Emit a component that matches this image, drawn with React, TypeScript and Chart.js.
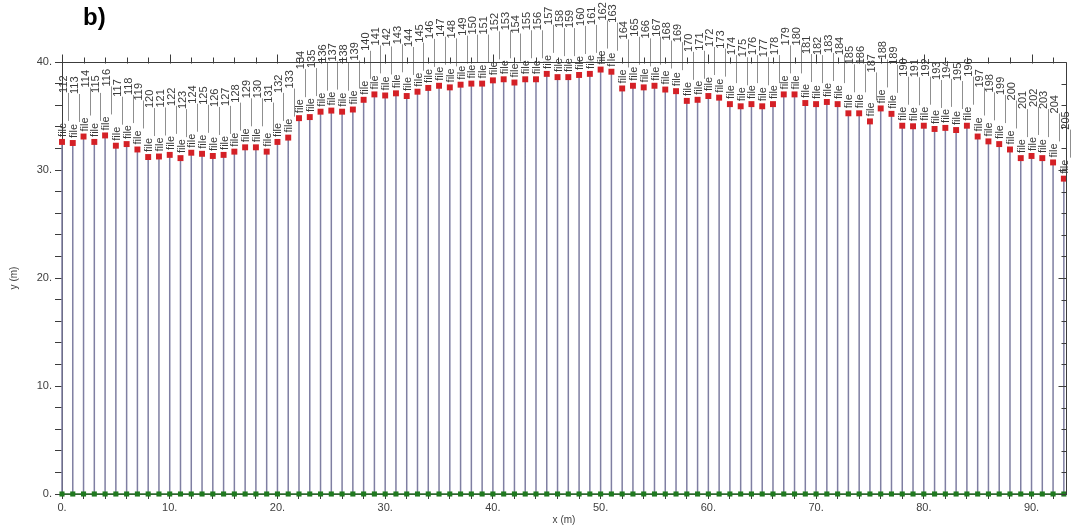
import React, { useEffect, useRef } from 'react';
import { Chart, registerables } from 'chart.js';

Chart.register(...registerables);

// Station positions along the profile (m)
const stationX: number[] = [
  0, 1, 2, 3, 4, 5, 6, 7, 8, 9,
  10, 11, 12, 13, 14, 15, 16, 17, 18, 19,
  20, 21, 22, 23, 24, 25, 26, 27, 28, 29,
  30, 31, 32, 33, 34, 35, 36, 37, 38, 39,
  40, 41, 42, 43, 44, 45, 46, 47, 48, 49,
  50, 51, 52, 53, 54, 55, 56, 57, 58, 59,
  60, 61, 62, 63, 64, 65, 66, 67, 68, 69,
  70, 71, 72, 73, 74, 75, 76, 77, 78, 79,
  80, 81, 82, 83, 84, 85, 86, 87, 88, 89,
  90, 91, 92, 93,
];

// Elevation of each station (m)
const elevations: number[] = [
  32.6, 32.5, 33.1, 32.6, 33.2, 32.25, 32.4, 31.9, 31.2, 31.25,
  31.4, 31.1, 31.6, 31.5, 31.3, 31.4, 31.7, 32.1, 32.1, 31.7,
  32.6, 33.0, 34.8, 34.9, 35.4, 35.5, 35.4, 35.6, 36.5, 37.0,
  36.9, 37.1, 36.85, 37.25, 37.6, 37.8, 37.65, 37.9, 38.0, 38.0,
  38.3, 38.4, 38.1, 38.4, 38.4, 38.9, 38.6, 38.6, 38.8, 38.9,
  39.3, 39.1, 37.55, 37.8, 37.65, 37.8, 37.45, 37.3, 36.4, 36.5,
  36.85, 36.7, 36.1, 35.9, 36.1, 35.9, 36.1, 37.0, 37.0, 36.2,
  36.1, 36.3, 36.1, 35.25, 35.25, 34.5, 35.7, 35.2, 34.1, 34.05,
  34.1, 33.8, 33.9, 33.7, 34.1, 33.1, 32.65, 32.4, 31.9, 31.1,
  31.3, 31.1, 30.7, 29.2,
];

// Ground reference level of each station (m)
const groundLevels: number[] = [
  0, 0, 0, 0, 0, 0, 0, 0, 0, 0,
  0, 0, 0, 0, 0, 0, 0, 0, 0, 0,
  0, 0, 0, 0, 0, 0, 0, 0, 0, 0,
  0, 0, 0, 0, 0, 0, 0, 0, 0, 0,
  0, 0, 0, 0, 0, 0, 0, 0, 0, 0,
  0, 0, 0, 0, 0, 0, 0, 0, 0, 0,
  0, 0, 0, 0, 0, 0, 0, 0, 0, 0,
  0, 0, 0, 0, 0, 0, 0, 0, 0, 0,
  0, 0, 0, 0, 0, 0, 0, 0, 0, 0,
  0, 0, 0, 0,
];

// Point identifiers
const pointIds: string[] = [
  '112', '113', '114', '115', '116', '117', '118', '119', '120', '121',
  '122', '123', '124', '125', '126', '127', '128', '129', '130', '131',
  '132', '133', '134', '135', '136', '137', '138', '139', '140', '141',
  '142', '143', '144', '145', '146', '147', '148', '149', '150', '151',
  '152', '153', '154', '155', '156', '157', '158', '159', '160', '161',
  '162', '163', '164', '165', '166', '167', '168', '169', '170', '171',
  '172', '173', '174', '175', '176', '177', '178', '179', '180', '181',
  '182', '183', '184', '185', '186', '187', '188', '189', '190', '191',
  '192', '193', '194', '195', '196', '197', '198', '199', '200', '201',
  '202', '203', '204', '205',
];

const pointTag = 'file';

const xMin = 0;
const xMax = 93.2;
const yMin = 0;
const yMax = 40;
const tickStep = 2;
const labelStep = 10;

const FONT = '"Liberation Sans", Arial, sans-serif';
const AXIS_COLOR = '#3c3c3c';
const TEXT_COLOR = '#404040';

const pointLabelPlugin = {
  id: 'pointLabelPlugin',
  afterDatasetsDraw(chart: any) {
    const { ctx, scales } = chart;
    const xs = scales.x;
    const ys = scales.y;
    ctx.save();
    ctx.font = `11px ${FONT}`;
    ctx.fillStyle = '#3a3a3a';
    ctx.strokeStyle = '#8f8f8f';
    ctx.lineWidth = 1;
    for (let i = 0; i < stationX.length; i++) {
      const px = xs.getPixelForValue(stationX[i]);
      const py = ys.getPixelForValue(elevations[i]);
      // tag text
      ctx.save();
      ctx.translate(px + 1, py - 5);
      ctx.rotate(-Math.PI / 2);
      ctx.textAlign = 'left';
      ctx.textBaseline = 'middle';
      ctx.fillText(pointTag, 0, 0);
      ctx.restore();
      // leader line
      ctx.beginPath();
      ctx.moveTo(Math.round(px + 6) + 0.5, py - 21);
      ctx.lineTo(Math.round(px + 6) + 0.5, py - 49);
      ctx.stroke();
      // id text
      ctx.save();
      ctx.translate(px + 2, py - 49);
      ctx.rotate(-Math.PI / 2);
      ctx.textAlign = 'left';
      ctx.textBaseline = 'middle';
      ctx.fillText(pointIds[i], 0, 0);
      ctx.restore();
    }
    ctx.restore();
  },
};

const frameAxesPlugin = {
  id: 'frameAxesPlugin',
  afterDraw(chart: any) {
    const { ctx, chartArea, scales } = chart;
    const xs = scales.x;
    const ys = scales.y;
    ctx.save();
    ctx.strokeStyle = AXIS_COLOR;
    ctx.lineWidth = 1;
    ctx.beginPath();
    const top = Math.round(chartArea.top) + 0.5;
    const right = Math.round(chartArea.right) + 0.5;
    ctx.moveTo(chartArea.left, top);
    ctx.lineTo(right, top);
    ctx.lineTo(right, chartArea.bottom);
    for (let v = xMin; v <= xMax; v += tickStep) {
      const px = Math.round(xs.getPixelForValue(v)) + 0.5;
      const len = v % labelStep === 0 ? 8 : 5;
      ctx.moveTo(px, top + 1);
      ctx.lineTo(px, top - len);
    }
    for (let v = yMin; v <= yMax; v += tickStep) {
      const py = Math.round(ys.getPixelForValue(v)) + 0.5;
      const len = v % labelStep === 0 ? 8 : 5;
      ctx.moveTo(right, py);
      ctx.lineTo(right - len, py);
    }
    ctx.stroke();
    ctx.restore();
  },
};

export default function App() {
  const canvasRef = useRef<HTMLCanvasElement | null>(null);

  useEffect(() => {
    const canvas = canvasRef.current;
    if (!canvas) return;

    const stemData: any[] = [];
    for (let i = 0; i < stationX.length; i++) {
      stemData.push({ x: stationX[i], y: groundLevels[i] });
      stemData.push({ x: stationX[i], y: elevations[i] });
      stemData.push({ x: stationX[i], y: null });
    }
    const topData = stationX.map((x, i) => ({ x, y: elevations[i] }));
    const groundData = stationX.map((x, i) => ({ x, y: groundLevels[i] }));

    const tickCb = (value: any) => {
      const v = Number(value);
      return Math.abs(v % labelStep) < 1e-9 ? `${v}.` : '';
    };

    const chart = new Chart(canvas, {
      type: 'scatter',
      data: {
        datasets: [
          {
            label: 'top',
            data: topData,
            showLine: false,
            pointStyle: 'rect',
            pointRadius: 4.2,
            pointBackgroundColor: '#d42026',
            pointBorderColor: '#d42026',
            pointBorderWidth: 0,
            order: 0,
            clip: false as any,
          },
          {
            label: 'ground',
            data: groundData,
            showLine: true,
            borderColor: '#2f6e2f',
            borderWidth: 1.5,
            pointStyle: 'rect',
            pointRadius: 3.6,
            pointBackgroundColor: '#1f7a1f',
            pointBorderColor: '#1f7a1f',
            pointBorderWidth: 0,
            order: 1,
            clip: false as any,
          },
          {
            label: 'stems',
            data: stemData,
            showLine: true,
            spanGaps: false,
            borderColor: '#7f7fa2',
            borderWidth: 1.5,
            pointRadius: 0,
            order: 2,
            clip: false as any,
          },
        ],
      },
      options: {
        animation: false,
        responsive: false,
        events: [],
        layout: { padding: { left: 8, right: 10, top: 62, bottom: 0 } },
        plugins: {
          legend: { display: false },
          tooltip: { enabled: false },
        },
        scales: {
          x: {
            type: 'linear',
            position: 'bottom',
            min: xMin,
            max: xMax,
            afterFit: (scale: any) => {
              scale.height = 34;
            },
            ticks: {
              stepSize: tickStep,
              includeBounds: false,
              autoSkip: false,
              maxRotation: 0,
              minRotation: 0,
              padding: 2,
              color: TEXT_COLOR,
              font: { family: FONT, size: 11 },
              callback: tickCb,
            },
            grid: {
              display: true,
              drawOnChartArea: false,
              drawTicks: true,
              tickLength: 5,
              color: AXIS_COLOR,
            },
            border: { display: true, color: AXIS_COLOR, width: 1 },
            title: {
              display: true,
              text: 'x (m)',
              color: TEXT_COLOR,
              font: { family: FONT, size: 10 },
              padding: { top: 0, bottom: 2 },
            },
          },
          y: {
            type: 'linear',
            position: 'left',
            min: yMin,
            max: yMax,
            afterFit: (scale: any) => {
              scale.width = 54;
            },
            ticks: {
              stepSize: tickStep,
              includeBounds: false,
              autoSkip: false,
              padding: 3,
              color: TEXT_COLOR,
              font: { family: FONT, size: 11 },
              callback: tickCb,
            },
            grid: {
              display: true,
              drawOnChartArea: false,
              drawTicks: true,
              tickLength: 7,
              color: AXIS_COLOR,
            },
            border: { display: true, color: AXIS_COLOR, width: 1 },
            title: {
              display: true,
              text: 'y (m)',
              color: TEXT_COLOR,
              font: { family: FONT, size: 10 },
              padding: { top: 0, bottom: 0 },
            },
          },
        },
      },
      plugins: [pointLabelPlugin, frameAxesPlugin],
    });

    return () => {
      chart.destroy();
    };
  }, []);

  return (
    <div
      style={{
        position: 'fixed',
        left: 0,
        top: 0,
        width: 1076,
        height: 528,
        background: '#ffffff',
        overflow: 'hidden',
      }}
    >
      <canvas
        ref={canvasRef}
        width={1076}
        height={528}
        style={{ width: 1076, height: 528, display: 'block' }}
      />
      <div
        style={{
          position: 'absolute',
          left: 83,
          top: 3,
          fontFamily: FONT,
          fontWeight: 'bold',
          fontSize: 24,
          lineHeight: '28px',
          color: '#000000',
        }}
      >
        b)
      </div>
    </div>
  );
}
